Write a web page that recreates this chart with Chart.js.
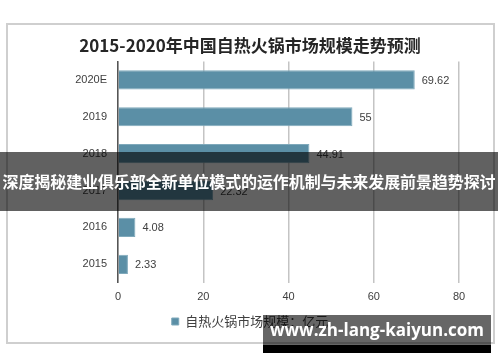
<!DOCTYPE html>
<html>
<head>
<meta charset="utf-8">
<script src="https://cdn.jsdelivr.net/npm/chart.js@4/dist/chart.umd.min.js"></script>
<style>
html,body{margin:0;padding:0;background:#fff;}
#wrap{position:relative;width:500px;height:362px;overflow:hidden;font-family:"Noto Sans CJK SC","Noto Sans",sans-serif;}
#frame{position:absolute;left:6px;top:23px;width:485px;height:317px;border:2px solid #cfcfcf;background:#fff;}
#c{position:absolute;left:0;top:0;}
#banner{position:absolute;left:0;top:152px;width:498px;height:59px;background:rgba(0,0,0,0.62);color:#fff;font-weight:bold;font-size:16px;line-height:59px;text-align:center;white-space:nowrap;letter-spacing:-0.1px;}
#wm{position:absolute;left:263px;top:315px;width:228px;height:30px;background:rgba(0,0,0,0.6);color:#fff;font-family:"Open Sans","Noto Sans",sans-serif;font-weight:bold;font-size:17px;line-height:30px;text-align:center;white-space:nowrap;}
#wmb{position:absolute;left:263px;top:345px;width:228px;height:8px;background:#000;}
</style>
</head>
<body>
<div id="wrap">
<div id="frame"></div>
<canvas id="c" width="500" height="362"></canvas>
<div id="banner">深度揭秘建业俱乐部全新单位模式的运作机制与未来发展前景趋势探讨</div>
<div id="wm">www.zh-lang-kaiyun.com</div>
<div id="wmb"></div>
</div>
<script>
const titleText = "2015-2020年中国自热火锅市场规模走势预测";
const seriesName = "自热火锅市场规模：亿元";
const categories = ["2020E","2019","2018","2017","2016","2015"];
const values = [69.62, 55, 44.91, 22.32, 4.08, 2.33];
const valueLabels = ["69.62","55","44.91","22.32","4.08","2.33"];
const xTicks = [0,20,40,60,80];

const labelPlugin = {
  id: 'valueLabels',
  afterDatasetsDraw(chart) {
    const ctx = chart.ctx;
    const meta = chart.getDatasetMeta(0);
    ctx.save();
    ctx.font = '11px "Liberation Sans", Arial, sans-serif';
    ctx.fillStyle = '#404040';
    ctx.textAlign = 'left';
    ctx.textBaseline = 'middle';
    meta.data.forEach((bar, i) => {
      ctx.fillText(valueLabels[i], bar.x + 7, bar.y + 1);
    });
    ctx.restore();
  }
};

new Chart(document.getElementById('c'), {
  type: 'bar',
  data: {
    labels: categories,
    datasets: [{
      label: seriesName,
      data: values,
      backgroundColor: '#5b8fa6',
      borderColor: '#7fa9bb',
      borderWidth: 1,
      categoryPercentage: 1,
      barPercentage: 0.52
    }]
  },
  options: {
    indexAxis: 'y',
    responsive: false,
    animation: false,
    layout: { padding: { left: 41, right: 41, top: 0, bottom: 24 } },
    scales: {
      x: {
        min: 0, max: 80,
        afterBuildTicks(scale) { scale.ticks = xTicks.map(v => ({ value: v })); },
        grid: { color: '#c4c4c4', lineWidth: 1.5, drawTicks: false },
        border: { display: false },
        ticks: { padding: 8, color: '#404040', font: { size: 11, family: '"Liberation Sans", Arial, sans-serif' } }
      },
      y: {
        afterFit(scale) { scale.width = 77; },
        grid: { display: false, drawTicks: false },
        border: { display: true, color: '#555', width: 1.5 },
        ticks: { padding: 11, color: '#404040', font: { size: 11, family: '"Liberation Sans", Arial, sans-serif' } }
      }
    },
    plugins: {
      title: {
        display: true,
        text: titleText,
        color: '#262626',
        font: { size: 17, weight: 'bold', family: '"Noto Sans CJK SC", sans-serif' },
        padding: { top: 35, bottom: 6 }
      },
      legend: {
        display: true,
        position: 'bottom',
        labels: {
          boxWidth: 7, boxHeight: 7,
          color: '#404040',
          font: { size: 13, family: '"Noto Sans CJK SC", sans-serif' },
          padding: 3
        }
      },
      tooltip: { enabled: false }
    }
  },
  plugins: [labelPlugin]
});
</script>
</body>
</html>
